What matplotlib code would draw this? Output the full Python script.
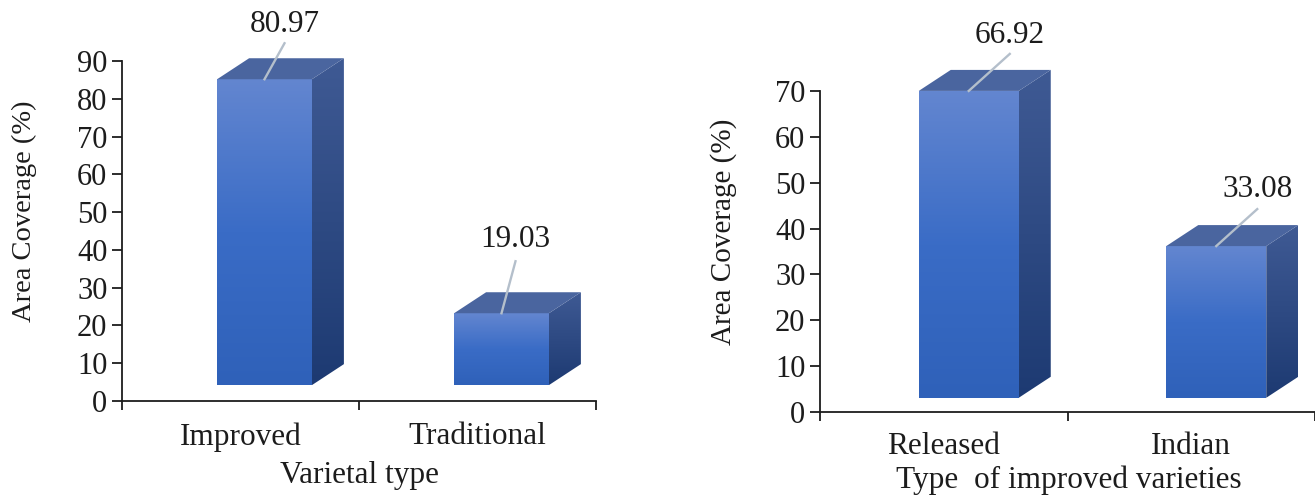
import matplotlib
matplotlib.use('Agg')
import matplotlib.pyplot as plt
from matplotlib.colors import LinearSegmentedColormap
from matplotlib.patches import Polygon
import numpy as np

plt.rcParams['font.family'] = ['Liberation Serif', 'DejaVu Serif']

# left chart
cats_left = ['Improved', 'Traditional']
vals_left = [80.97, 19.03]
ticks_left = [0, 10, 20, 30, 40, 50, 60, 70, 80, 90]
# right chart
cats_right = ['Released', 'Indian']
vals_right = [66.92, 33.08]
ticks_right = [0, 10, 20, 30, 40, 50, 60, 70]

W, H = 1315., 495.
front_cmap = LinearSegmentedColormap.from_list('front', ['#2f61b9', '#3a6cc6', '#6386d0'])
side_cmap = LinearSegmentedColormap.from_list('side', ['#1d3a72', '#3f5a94'])
grad = np.linspace(0, 1, 256).reshape(-1, 1)
TXT = '#1c1c1c'


def draw_chart(box, cats, vals, ticks, ymax, xlabel, floor, bar_w, shift, label_off, ylab, xlab, tick_fs, lab_fs, ylab_fs, cat_dy):
    left, right, bottom, top = box
    fig = plt.gcf()
    ax = fig.add_axes([left/W, 1-bottom/H, (right-left)/W, (bottom-top)/H])
    ax.patch.set_alpha(0)
    for s in ['top', 'right']:
        ax.spines[s].set_visible(False)
    for s in ['left', 'bottom']:
        ax.spines[s].set_linewidth(1.3)
        ax.spines[s].set_color(TXT)
    ax.set_yticks(ticks)
    ax.set_xticks(range(len(cats)+1))
    ax.set_xticklabels([])
    ax.tick_params(axis='y', labelsize=tick_fs, length=7.5, width=1.3, pad=3, color=TXT, labelcolor=TXT)
    ax.tick_params(axis='x', length=6.5, width=1.3, color=TXT)
    # pixel sizes to data units
    ux = len(cats)/(right-left)
    uy = ymax/(bottom-top)
    ddx = 32*ux
    ddy = 21*uy
    for i, (c, v) in enumerate(zip(cats, vals)):
        xc = i + 0.5 + shift*ux
        x0 = xc - bar_w/2
        x1 = x0 + bar_w
        y0 = floor
        y1 = floor + v
        # front
        ax.imshow(grad, extent=[x0, x1, y0, y1], origin='lower', cmap=front_cmap, aspect='auto', zorder=3, clip_on=False)
        # side
        side = Polygon([[x1, y0], [x1+ddx, y0+ddy], [x1+ddx, y1+ddy], [x1, y1]], closed=True, fc='none', ec='none')
        ax.add_patch(side)
        side.set_clip_on(False)
        im2 = ax.imshow(grad, extent=[x1, x1+ddx, y0, y1+ddy], origin='lower', cmap=side_cmap, aspect='auto', zorder=3)
        im2.set_clip_path(side)
        im2.set_clip_box(fig.bbox)
        # top
        ax.add_patch(Polygon([[x0, y1], [x1, y1], [x1+ddx, y1+ddy], [x0+ddx, y1+ddy]], closed=True, fc='#4a659f', ec='none', zorder=3, clip_on=False))
        # leader line and value
        lx = xc + label_off[i][0]*ux
        ly = y1 + label_off[i][1]*uy
        ax.plot([xc, lx], [y1, ly], color='#b4bfcb', lw=1.7, zorder=4, clip_on=False)
        ax.text(lx, ly + label_off[i][2]*uy, '%.2f' % v, ha='center', va='center', fontsize=lab_fs, color=TXT, clip_on=False, zorder=5)
        ax.text(i + 0.5, -cat_dy*uy, c, ha='center', va='center', fontsize=lab_fs, color=TXT)
    ax.set_xlim(0, len(cats))
    ax.set_ylim(0, ymax)
    fig.text(ylab[0]/W, 1-ylab[1]/H, 'Area Coverage (%)', rotation=90, ha='center', va='center', fontsize=ylab_fs, color=TXT)
    fig.text(xlab[0]/W, 1-xlab[1]/H, xlabel, ha='center', va='center', fontsize=lab_fs, color=TXT)


fig = plt.figure(figsize=(W/100, H/100), dpi=100)

draw_chart((122, 596, 401, 61), cats_left, vals_left, ticks_left, 90, 'Varietal type',
           4.2, 0.40, 24, [(20, 36, 19), (14, 52, 22)], (24, 211), (360, 476), 22, 22.5, 20.5, 36)
draw_chart((820, 1315, 412, 91), cats_right, vals_right, ticks_right, 70, 'Type  of improved varieties',
           3.1, 0.404, 25, [(41, 37, 18), (41, 37, 20)], (724, 232), (1069, 480), 22, 22.5, 21, 34)

fig.savefig('out.png', dpi=100)
